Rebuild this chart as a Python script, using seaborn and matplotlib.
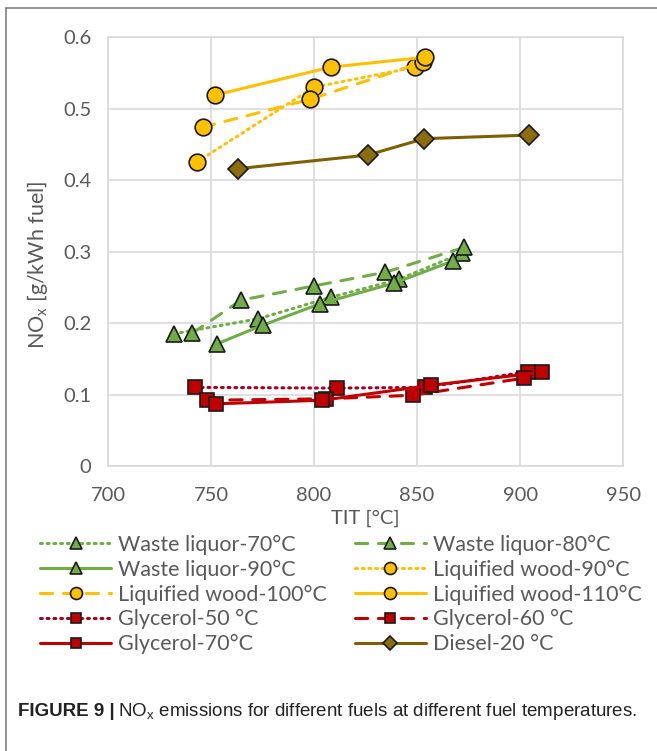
import numpy as np
import pandas as pd
import matplotlib
matplotlib.use("Agg")
import matplotlib.pyplot as plt
import matplotlib.lines as mlines
import seaborn as sns

# data: TIT [°C] and NOx [g/kWh fuel]

wl70_tit = [732, 773, 808, 841, 872]
wl70_nox = [0.185, 0.206, 0.236, 0.261, 0.298]
wl80_tit = [741, 764.5, 800, 834.5, 873]
wl80_nox = [0.186, 0.232, 0.252, 0.271, 0.306]
wl90_tit = [753, 775, 803, 839, 867.5]
wl90_nox = [0.171, 0.197, 0.227, 0.256, 0.287]

lw90_tit = [743, 800, 849]
lw90_nox = [0.425, 0.530, 0.558]
lw100_tit = [746, 798, 853]
lw100_nox = [0.474, 0.513, 0.565]
lw110_tit = [752, 808, 854]
lw110_nox = [0.519, 0.558, 0.572]

gl50_tit = [742, 811, 854, 904]
gl50_nox = [0.110, 0.109, 0.110, 0.132]
gl60_tit = [748, 806, 848, 902]
gl60_nox = [0.092, 0.094, 0.099, 0.123]
gl70_tit = [752.5, 804, 857, 910.5]
gl70_nox = [0.087, 0.092, 0.113, 0.131]

diesel_tit = [763, 826, 853.5, 904.5]
diesel_nox = [0.416, 0.435, 0.458, 0.463]

labels = ['Waste liquor-70°C', 'Waste liquor-80°C', 'Waste liquor-90°C',
          'Liquified wood-90°C', 'Liquified wood-100°C', 'Liquified wood-110°C',
          'Glycerol-50 °C', 'Glycerol-60 °C', 'Glycerol-70°C', 'Diesel-20 °C']

series = [(wl70_tit, wl70_nox), (wl80_tit, wl80_nox), (wl90_tit, wl90_nox),
          (lw90_tit, lw90_nox), (lw100_tit, lw100_nox), (lw110_tit, lw110_nox),
          (gl50_tit, gl50_nox), (gl60_tit, gl60_nox), (gl70_tit, gl70_nox),
          (diesel_tit, diesel_nox)]

# styles

green, gold, red, brown = '#70AD47', '#FFC000', '#C00000', '#7F6000'
dotted = (0, (0.6, 1.6))
dashed = (0, (4, 3.5))
styles = [
    dict(color=green, mfc=green, ls=dotted, marker='^', ms=12),
    dict(color=green, mfc=green, ls=dashed, marker='^', ms=12),
    dict(color=green, mfc=green, ls='-', marker='^', ms=12),
    dict(color=gold, mfc=gold, ls=dotted, marker='o', ms=12),
    dict(color=gold, mfc=gold, ls=dashed, marker='o', ms=12),
    dict(color=gold, mfc=gold, ls='-', marker='o', ms=12),
    dict(color='#A50021', mfc=red, ls=dotted, marker='s', ms=10.5),
    dict(color=red, mfc=red, ls=dashed, marker='s', ms=10.5),
    dict(color=red, mfc=red, ls='-', marker='s', ms=10.5),
    dict(color=brown, mfc='#8C6D0E', ls='-', marker='D', ms=10),
]

sns.set_style('whitegrid')
plt.rcParams['font.family'] = ['Lato', 'DejaVu Sans']
plt.rcParams['lines.dash_capstyle'] = 'round'

fig = plt.figure(figsize=(6.57, 7.51), dpi=100)
ax = fig.add_axes([0.1644, 0.3795, 0.784, 0.571])

for (tit, nox), lab, st in zip(series, labels, styles):
    sns.lineplot(x=tit, y=nox, ax=ax, sort=False, estimator=None, legend=False,
                 color=st['color'], linestyle=st['ls'], linewidth=2.2,
                 marker=st['marker'], markersize=st['ms'], markerfacecolor=st['mfc'],
                 markeredgecolor='#1a1a1a', markeredgewidth=1.2)

ax.set_xlim(700, 950)
ax.set_ylim(0, 0.6)
ax.set_xticks([700, 750, 800, 850, 900, 950])
ax.set_yticks([0, 0.1, 0.2, 0.3, 0.4, 0.5, 0.6])
ax.set_yticklabels(['0', '0.1', '0.2', '0.3', '0.4', '0.5', '0.6'])
ax.grid(True, color='#D9D9D9', linewidth=1.2)
for sp in ax.spines.values():
    sp.set_color('#D9D9D9')
    sp.set_linewidth(1.2)
ax.tick_params(axis='both', length=0, labelsize=14.5, labelcolor='#595959')
ax.tick_params(axis='x', pad=15)
ax.tick_params(axis='y', pad=12)
ax.set_xlabel('TIT [°C]', fontsize=14.5, color='#595959', labelpad=4)
ax.set_ylabel('NO$_\\mathregular{x}$ [g/kWh fuel]', fontsize=15.5, color='#595959')
ax.yaxis.set_label_coords(-0.113, 0.469)

# legend below, two columns filled row by row like Excel (smaller markers)

handles = [mlines.Line2D([], [], color=st['color'], linestyle=st['ls'], linewidth=2.2,
                         marker=st['marker'], markersize=st['ms'] * 0.72,
                         markerfacecolor=st['mfc'], markeredgecolor='#1a1a1a',
                         markeredgewidth=1.2) for st in styles]

leg_kw = dict(loc='upper left', frameon=False, fontsize=15.5, handlelength=3.3,
              handletextpad=0.32, labelspacing=0.22, borderaxespad=0, borderpad=0)
leg1 = fig.legend([handles[i] for i in [0, 2, 4, 6, 8]], [labels[i] for i in [0, 2, 4, 6, 8]],
                  bbox_to_anchor=(0.061, 0.288), **leg_kw)
leg2 = fig.legend([handles[i] for i in [1, 3, 5, 7, 9]], [labels[i] for i in [1, 3, 5, 7, 9]],
                  bbox_to_anchor=(0.540, 0.288), **leg_kw)
for leg in (leg1, leg2):
    for t in leg.get_texts():
        t.set_color('#595959')

# frame and caption

fig.add_artist(mlines.Line2D([0.009, 0.009], [0, 0.989], color='#808080', lw=1.2))
fig.add_artist(mlines.Line2D([0.009, 1.0], [0.989, 0.989], color='#808080', lw=1.2))

cap1 = fig.text(0.027, 0.046, 'FIGURE 9 |', fontsize=13.5, fontweight='bold',
                family='Liberation Sans', color='#222222', va='baseline')
fig.canvas.draw()
bb = cap1.get_window_extent().transformed(fig.transFigure.inverted())
fig.text(bb.x1 + 0.006, 0.046,
         'NO$_\\mathregular{x}$ emissions for different fuels at different fuel temperatures.',
         fontsize=13.5, family='Liberation Sans', color='#222222', va='baseline')

fig.savefig('out.png', dpi=100)
